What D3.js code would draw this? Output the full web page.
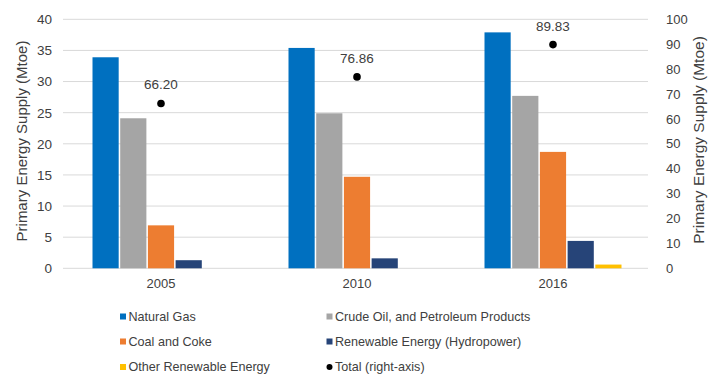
<!DOCTYPE html>
<html><head><meta charset="utf-8">
<script src="https://cdn.jsdelivr.net/npm/d3@7"></script>
<style>body{margin:0;background:#fff}svg{display:block;font-family:"Liberation Sans",Arial,sans-serif}</style>
</head><body><svg id="c" width="708" height="376"></svg>
<script>
const years = ["2005","2010","2016"];
const seriesNames = ["Natural Gas","Crude Oil, and Petroleum Products","Coal and Coke","Renewable Energy (Hydropower)","Other Renewable Energy"];
const naturalGas = [33.9, 35.4, 37.9];
const crudeOil = [24.1, 24.9, 27.7];
const coalCoke = [6.9, 14.7, 18.7];
const hydro = [1.3, 1.6, 4.4];
const otherRenew = [0.0, 0.0, 0.6];
const total = [66.20, 76.86, 89.83];
const leftTicks = [0,5,10,15,20,25,30,35,40];
const rightTicks = [0,10,20,30,40,50,60,70,80,90,100];
const colors = ["#0070C0","#A5A5A5","#ED7D31","#264478","#FFC000"];
const values = [naturalGas, crudeOil, coalCoke, hydro, otherRenew];

const svg = d3.select("#c");
const txt = "#404040";
const x0 = d3.scaleBand().domain(years).range([63, 651]);
const x1 = d3.scaleBand().domain(seriesNames).range([29.5, 166.5]).paddingInner(0.055);
const yL = d3.scaleLinear().domain([0,40]).range([268.3, 19.3]);
const yR = d3.scaleLinear().domain([0,100]).range([268.3, 19.3]);

// gridlines
svg.append("g").selectAll("line").data(leftTicks).join("line")
  .attr("x1", 63).attr("x2", 648).attr("y1", d=>yL(d)).attr("y2", d=>yL(d))
  .attr("stroke", "#d9d9d9").attr("stroke-width", 1);

// left axis
const gl = svg.append("g").attr("transform","translate(52,0)")
  .call(d3.axisLeft(yL).tickValues(leftTicks).tickSize(0).tickPadding(0));
gl.select(".domain").remove();
gl.selectAll("text").attr("font-size",13.5).attr("fill",txt).attr("font-family","Liberation Sans, Arial, sans-serif");

// right axis
const gr = svg.append("g").attr("transform","translate(666,0)")
  .call(d3.axisRight(yR).tickValues(rightTicks).tickSize(0).tickPadding(0));
gr.select(".domain").remove();
gr.selectAll("text").attr("font-size",13).attr("fill",txt).attr("font-family","Liberation Sans, Arial, sans-serif");

// x axis
const gx = svg.append("g").attr("transform","translate(0,276)")
  .call(d3.axisBottom(x0).tickSize(0).tickPadding(3));
gx.select(".domain").remove();
gx.selectAll("text").attr("font-size",13).attr("fill",txt).attr("font-family","Liberation Sans, Arial, sans-serif");

// bars
years.forEach((yr,i)=>{
  const g = svg.append("g").attr("transform",`translate(${x0(yr)},0)`);
  g.selectAll("rect").data(seriesNames.map((s,j)=>({s, v: values[j][i], c: colors[j]}))).join("rect")
    .attr("x", d=>x1(d.s)).attr("width", x1.bandwidth())
    .attr("y", d=>yL(d.v)).attr("height", d=>yL(0)-yL(d.v))
    .attr("fill", d=>d.c);
});

// total dots
svg.append("g").selectAll("circle").data(total).join("circle")
  .attr("cx",(d,i)=>x0(years[i])+x0.bandwidth()/2).attr("cy",d=>yR(d)).attr("r",3.8).attr("fill","#000");
svg.append("g").selectAll("text").data(total).join("text")
  .attr("x",(d,i)=>x0(years[i])+x0.bandwidth()/2).attr("y",d=>yR(d)-14)
  .attr("text-anchor","middle").attr("font-size",13.5).attr("fill",txt).text(d=>d.toFixed(2));

// axis titles
svg.append("text").attr("transform","translate(27,141) rotate(-90)").attr("text-anchor","middle")
  .attr("font-size",15).attr("fill",txt).text("Primary Energy Supply (Mtoe)");
svg.append("text").attr("transform","translate(704,140) rotate(-90)").attr("text-anchor","middle")
  .attr("font-size",15.5).attr("fill",txt).text("Primary Energy Supply (Mtoe)");

// legend
const legendItems = seriesNames.map((s,j)=>({name:s, color:colors[j], type:"rect"})).concat([{name:"Total (right-axis)", color:"#000", type:"circle"}]);
const colX = [120, 326.5];
const rowY = [316.5, 341.5, 367];
legendItems.forEach((d,k)=>{
  const cx = colX[k%2], cy = rowY[Math.floor(k/2)];
  if(d.type==="rect") svg.append("rect").attr("x",cx).attr("y",cy-3).attr("width",6).attr("height",6).attr("fill",d.color);
  else svg.append("circle").attr("cx",cx+3).attr("cy",cy).attr("r",3).attr("fill",d.color);
  svg.append("text").attr("x",cx+8.5).attr("y",cy).attr("dy","0.35em").attr("font-size",12.6).attr("fill",txt).text(d.name);
});
</script></body></html>
